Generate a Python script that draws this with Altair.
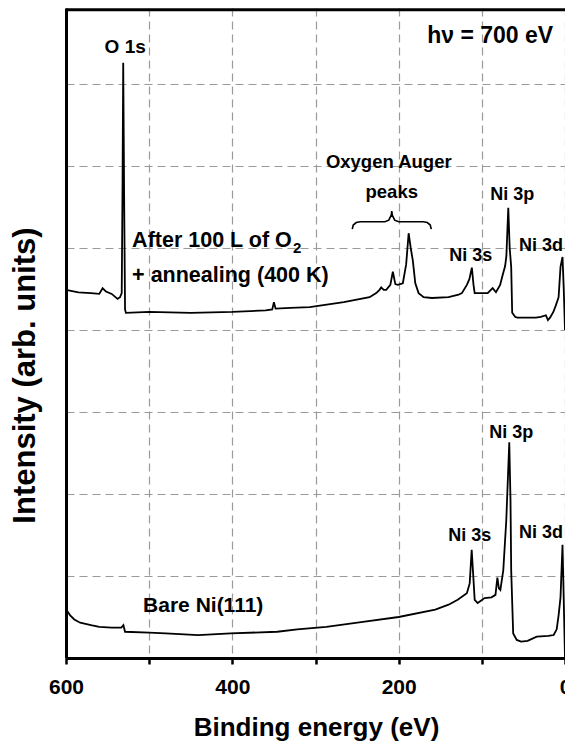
import altair as alt
import pandas as pd

# ---- spectra (binding energy in eV, intensity in arb. units) ----
upper_ev = [600, 585, 570, 560, 556, 552, 545, 538, 535, 533, 532, 531.2, 530, 529, 528,
            500, 450, 400, 360, 352, 350, 348, 330, 307, 266, 235, 227, 223, 221, 218,
            215, 210, 207, 204, 201, 195, 191, 188, 185.5, 183, 180, 176, 170, 160, 140,
            128, 124, 118, 115, 112, 110, 108.6, 100, 93, 87, 83, 78, 75.5, 72, 70.5,
            68.2, 66.5, 64.7, 63.5, 60, 57.5, 45, 35, 29, 23, 20.5, 18, 14, 11, 7.7,
            5.4, 3, 1.5, 0]
upper_int = [4.49, 4.46, 4.45, 4.44, 4.51, 4.47, 4.44, 4.38, 4.40, 4.45, 5.80, 7.26, 5.50, 4.25, 4.21,
             4.22, 4.21, 4.22, 4.24, 4.25, 4.34, 4.26, 4.27, 4.28, 4.34, 4.40, 4.45, 4.49, 4.52, 4.49,
             4.49, 4.55, 4.71, 4.56, 4.55, 4.57, 4.80, 5.18, 5.00, 4.85, 4.57, 4.45, 4.40, 4.39, 4.40,
             4.43, 4.45, 4.55, 4.62, 4.76, 4.55, 4.45, 4.45, 4.45, 4.51, 4.46, 4.55, 4.65, 4.78, 4.90,
             5.49, 5.00, 4.77, 4.21, 4.16, 4.15, 4.15, 4.15, 4.16, 4.18, 4.12, 4.15, 4.22, 4.30, 4.40,
             4.77, 4.89, 4.50, 4.00]

lower_ev = [600, 599, 595, 590, 583, 570, 560, 545, 533.5, 531, 529, 500, 480, 441, 402,
            346, 322, 287, 243, 200, 156, 140, 129, 118, 114.6, 112.2, 110, 108.6, 105,
            96.7, 88.4, 83.6, 81.3, 79.5, 77.7, 74.2, 70.6, 67, 65.5, 64.7, 62.3, 58,
            52.8, 45, 34, 20, 13.6, 10, 7.7, 5.4, 3, 1.5, 0]
lower_int = [0.62, 0.58, 0.52, 0.47, 0.43, 0.40, 0.38, 0.37, 0.37, 0.40, 0.32, 0.31, 0.30, 0.28, 0.30,
             0.32, 0.35, 0.38, 0.44, 0.50, 0.59, 0.65, 0.71, 0.79, 0.91, 1.32, 0.95, 0.71, 0.67,
             0.73, 0.74, 0.77, 0.98, 0.85, 0.83, 1.07, 1.68, 2.63, 1.90, 1.07, 0.30, 0.22,
             0.20, 0.21, 0.26, 0.27, 0.28, 0.35, 0.52, 0.74, 1.38, 0.70, 0.00]

# ---- annotations ----
center_text = ["O 1s", "h\u03bd = 700 eV", "Oxygen Auger", "peaks", "Ni 3p", "Ni 3s", "Ni 3d",
               "Bare Ni(111)", "Ni 3p", "Ni 3s", "Ni 3d"]
center_ev = [528.8, 90.0, 211.9, 208.3, 63.5, 113.3, 29.0, 435.0, 64.7, 114.5, 29.0]
center_int = [7.38, 7.50, 5.98, 5.61, 5.585, 4.84, 4.96, 0.56, 2.68, 1.43, 1.46]
center_fs = [19, 23, 18.5, 18.5, 18, 18, 18, 21, 18, 18, 18]

left_text = ["After 100 L of O", "2", "+ annealing (400 K)"]
left_ev = [520.5, 327.0, 520.5]
left_int = [5.01, 4.94, 4.585]
left_fs = [21.5, 15, 21.5]

brace_ev = [255.8, 254.6, 251.0, 246.3, 216.6, 211.9, 208.9, 208.3, 207.7, 204.8, 200.0,
            170.3, 165.6, 162.0, 160.8]
brace_int = [5.23, 5.28, 5.31, 5.32, 5.32, 5.34, 5.40, 5.45, 5.40, 5.34, 5.32,
             5.32, 5.31, 5.28, 5.23]

x_ticks = [600, 500, 400, 300, 200, 100, 0]
y_grid = [1, 2, 3, 4, 5, 6, 7]
y_top = 650 / 82.0

FONT = "Liberation Sans"

spec = pd.concat([
    pd.DataFrame({"ev": upper_ev, "val": upper_int, "curve": "O2"}),
    pd.DataFrame({"ev": lower_ev, "val": lower_int, "curve": "bare"}),
])
ctext = pd.DataFrame({"ev": center_ev, "val": center_int, "t": center_text, "fs": center_fs})
ltext = pd.DataFrame({"ev": left_ev, "val": left_int, "t": left_text, "fs": left_fs})
brace = pd.DataFrame({"ev": brace_ev, "val": brace_int, "i": list(range(len(brace_ev)))})
frame = pd.DataFrame({"a": [600], "b": [0], "v": [y_top - 0.02]})

xscale = alt.Scale(domain=[600, 0], nice=False, zero=False)
yscale = alt.Scale(domain=[0, y_top], nice=False, zero=False)

xaxis = alt.Axis(
    values=x_ticks, format="d",
    labelExpr="datum.value % 200 == 0 ? datum.label : ''",
    grid=True, gridDash=[8, 5], gridColor="#9a9a9a", gridWidth=1.2,
    domainColor="black", domainWidth=3, tickColor="black", tickWidth=2.5, tickSize=6,
    labelFont=FONT, labelFontWeight="bold", labelFontSize=21, labelColor="black",
    labelPadding=12, labelFlush=False, labelOverlap=False,
    title="Binding energy (eV)", titleFont=FONT, titleFontSize=26, titleFontWeight="bold",
    titleColor="black", titleX=250, titleY=77, titleBaseline="alphabetic", titleAlign="center",
)
yaxis = alt.Axis(
    values=y_grid, labels=False, ticks=False,
    grid=True, gridDash=[8, 5], gridColor="#9a9a9a", gridWidth=1.2,
    domainColor="black", domainWidth=3,
    title="Intensity (arb. units)", titleFont=FONT, titleFontSize=31, titleFontWeight="bold",
    titleColor="black", titleAngle=270, titleX=-32, titleY=367,
    titleBaseline="alphabetic", titleAlign="center",
)

lines = alt.Chart(spec).mark_line(color="black", strokeWidth=1.8).encode(
    x=alt.X("ev:Q", scale=xscale, axis=xaxis),
    y=alt.Y("val:Q", scale=yscale, axis=yaxis),
    detail="curve:N",
)

top_rule = alt.Chart(frame).mark_rule(color="black", strokeWidth=3).encode(
    x="a:Q", x2="b:Q", y="v:Q"
)

brace_line = alt.Chart(brace).mark_line(color="black", strokeWidth=1.6).encode(
    x="ev:Q", y="val:Q", order="i:Q"
)

ctext_layer = alt.Chart(ctext).mark_text(
    font=FONT, fontWeight="bold", color="black", align="center", baseline="alphabetic"
).encode(
    x="ev:Q", y="val:Q", text="t:N", size=alt.Size("fs:Q", scale=None, legend=None)
)

ltext_layer = alt.Chart(ltext).mark_text(
    font=FONT, fontWeight="bold", color="black", align="left", baseline="alphabetic"
).encode(
    x="ev:Q", y="val:Q", text="t:N", size=alt.Size("fs:Q", scale=None, legend=None)
)

chart = alt.layer(lines, top_rule, brace_line, ctext_layer, ltext_layer).properties(
    width=499, height=650,
    autosize=alt.AutoSizeParams(type="none"),
    padding={"left": 58, "top": 0, "right": 0, "bottom": 83},
    background="white",
).configure_view(stroke=None)

chart.save("out.html", embed_options={"renderer": "svg", "actions": False})
